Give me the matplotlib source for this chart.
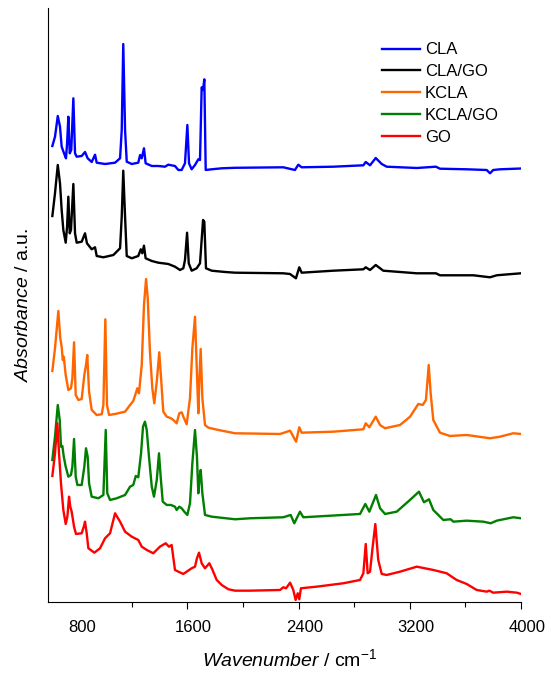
import matplotlib
matplotlib.use("Agg")
from matplotlib import pyplot as plt
from matplotlib.transforms import ScaledTranslation

plt.rcParams['font.family'] = ['Liberation Sans', 'DejaVu Sans']
plt.rcParams['mathtext.fontset'] = 'custom'
plt.rcParams['mathtext.rm'] = 'Liberation Sans'
plt.rcParams['mathtext.it'] = 'Liberation Sans:italic'

# FTIR spectra, stacked absorbance (offset included)
cla_wn = [629, 648, 668, 684, 696, 715, 727, 735, 744, 754, 765, 780, 792, 804, 840, 864, 883, 912,
          936, 948, 1008, 1080, 1116, 1128, 1139, 1152, 1164, 1200, 1247, 1260, 1272, 1288, 1300, 1344,
          1391, 1439, 1463, 1511, 1535, 1559, 1583, 1600, 1612, 1631, 1655, 1679, 1691, 1703, 1713,
          1722, 1732, 1775, 1847, 1943, 2290, 2374, 2398, 2422, 2650, 2866, 2883, 2914, 2955, 2998,
          3034, 3250, 3388, 3417, 3609, 3753, 3777, 3800, 3849, 4000]
cla_abs = [4.563, 4.656, 4.863, 4.756, 4.556, 4.483, 4.44, 4.59, 4.856, 4.49, 4.523, 5.04, 4.49, 4.456,
           4.463, 4.503, 4.44, 4.403, 4.476, 4.396, 4.383, 4.396, 4.44, 4.723, 5.583, 4.723, 4.406,
           4.383, 4.396, 4.473, 4.44, 4.54, 4.39, 4.363, 4.363, 4.356, 4.376, 4.363, 4.323, 4.323,
           4.39, 4.773, 4.39, 4.33, 4.373, 4.43, 4.423, 5.15, 5.123, 5.23, 4.323, 4.33, 4.34, 4.345,
           4.35, 4.323, 4.376, 4.35, 4.356, 4.37, 4.403, 4.37, 4.443, 4.383, 4.356, 4.343, 4.356,
           4.336, 4.33, 4.323, 4.29, 4.323, 4.33, 4.338]

clago_wn = [629, 648, 668, 684, 696, 708, 725, 735, 744, 754, 763, 780, 792, 804, 840, 864, 878, 912,
            936, 948, 996, 1068, 1116, 1128, 1139, 1152, 1164, 1200, 1247, 1265, 1276, 1288, 1300,
            1344, 1391, 1463, 1511, 1547, 1571, 1583, 1598, 1610, 1631, 1667, 1691, 1713, 1722, 1734,
            1775, 1871, 1943, 2290, 2338, 2381, 2405, 2422, 2650, 2866, 2883, 2914, 2955, 3009, 3250,
            3388, 3417, 3657, 3777, 3825, 3849, 4000]
clago_abs = [3.863, 4.09, 4.373, 4.19, 3.923, 3.723, 3.596, 3.756, 4.056, 3.69, 3.723, 4.183, 3.69,
             3.596, 3.606, 3.69, 3.59, 3.53, 3.55, 3.463, 3.45, 3.473, 3.54, 3.856, 4.316, 3.856,
             3.463, 3.44, 3.463, 3.53, 3.49, 3.566, 3.44, 3.413, 3.396, 3.383, 3.356, 3.323, 3.34,
             3.423, 3.696, 3.39, 3.316, 3.34, 3.39, 3.823, 3.806, 3.34, 3.316, 3.303, 3.296, 3.29,
             3.283, 3.24, 3.35, 3.296, 3.316, 3.33, 3.35, 3.323, 3.373, 3.316, 3.29, 3.29, 3.27,
             3.27, 3.25, 3.27, 3.273, 3.29]

kcla_wn = [629, 648, 672, 686, 696, 704, 711, 725, 744, 763, 773, 785, 797, 816, 840, 859, 871, 880,
           893, 912, 948, 984, 996, 1010, 1022, 1037, 1080, 1152, 1188, 1211, 1229, 1240, 1252, 1272,
           1288, 1303, 1315, 1331, 1348, 1362, 1380, 1398, 1411, 1427, 1452, 1482, 1499, 1523, 1542,
           1559, 1574, 1595, 1619, 1636, 1655, 1667, 1679, 1686, 1696, 1708, 1727, 1751, 1823, 1943,
           2267, 2339, 2382, 2405, 2422, 2650, 2866, 2883, 2909, 2955, 2986, 3022, 3130, 3202, 3261,
           3293, 3316, 3336, 3350, 3369, 3417, 3489, 3609, 3777, 3849, 3944, 4000]
kcla_abs = [2.313, 2.54, 2.913, 2.64, 2.556, 2.423, 2.456, 2.273, 2.123, 2.14, 2.24, 2.6, 2.073, 2.023,
            2.033, 2.273, 2.373, 2.473, 2.106, 1.923, 1.873, 1.88, 1.973, 2.83, 1.973, 1.873, 1.883,
            1.906, 1.973, 2.013, 2.09, 2.14, 2.09, 2.373, 2.973, 3.233, 3.04, 2.506, 2.14, 1.99,
            2.206, 2.5, 2.24, 1.906, 1.856, 1.84, 1.823, 1.79, 1.89, 1.9, 1.846, 1.78, 2.04, 2.54,
            2.856, 2.373, 1.89, 2.206, 2.533, 2.04, 1.773, 1.746, 1.723, 1.69, 1.683, 1.716, 1.606,
            1.75, 1.696, 1.706, 1.73, 1.79, 1.75, 1.856, 1.773, 1.74, 1.773, 1.856, 1.983, 1.973,
            2.023, 2.373, 2.09, 1.823, 1.696, 1.663, 1.673, 1.64, 1.656, 1.69, 1.683]

kclago_wn = [629, 648, 668, 682, 691, 701, 711, 725, 744, 763, 773, 785, 797, 809, 840, 859, 871, 883,
             893, 912, 960, 996, 1013, 1024, 1044, 1092, 1152, 1188, 1211, 1229, 1247, 1267, 1281,
             1295, 1308, 1324, 1344, 1360, 1380, 1396, 1408, 1423, 1452, 1482, 1511, 1523, 1542, 1559,
             1578, 1600, 1619, 1636, 1655, 1669, 1679, 1686, 1696, 1708, 1727, 1775, 1943, 2051, 2290,
             2343, 2369, 2410, 2434, 2842, 2880, 2909, 2957, 2986, 3022, 3106, 3201, 3266, 3302, 3338,
             3369, 3441, 3494, 3513, 3609, 3729, 3782, 3825, 3944, 4000]
kclago_abs = [1.423, 1.656, 1.973, 1.823, 1.556, 1.563, 1.456, 1.356, 1.256, 1.273, 1.356, 1.633, 1.256,
              1.173, 1.173, 1.356, 1.54, 1.456, 1.19, 1.056, 1.04, 1.073, 1.723, 1.09, 1.023, 1.04,
              1.073, 1.156, 1.173, 1.263, 1.25, 1.49, 1.756, 1.806, 1.723, 1.456, 1.156, 1.056, 1.223,
              1.49, 1.256, 1.006, 0.973, 0.973, 0.956, 0.923, 0.956, 0.94, 0.906, 0.873, 0.99, 1.39,
              1.723, 1.456, 1.09, 1.223, 1.323, 1.09, 0.873, 0.856, 0.83, 0.84, 0.85, 0.873, 0.79,
              0.906, 0.85, 0.883, 0.983, 0.906, 1.073, 0.94, 0.883, 0.906, 1.023, 1.106, 1.0, 1.03,
              0.923, 0.823, 0.83, 0.806, 0.816, 0.806, 0.79, 0.816, 0.85, 0.84]

go_wn = [629, 648, 665, 677, 691, 708, 725, 737, 749, 758, 768, 785, 799, 840, 855, 864, 876, 888, 931,
         972, 1008, 1044, 1080, 1116, 1152, 1200, 1247, 1272, 1308, 1355, 1403, 1444, 1468, 1487, 1511,
         1535, 1571, 1595, 1631, 1655, 1669, 1684, 1703, 1727, 1758, 1779, 1811, 1847, 1895, 1943,
         2051, 2267, 2290, 2310, 2339, 2362, 2379, 2394, 2405, 2417, 2530, 2722, 2842, 2866, 2883,
         2897, 2914, 2933, 2952, 2973, 2998, 3034, 3130, 3250, 3369, 3465, 3537, 3609, 3681, 3753,
         3772, 3800, 3897, 3969, 4000]
go_abs = [1.263, 1.49, 1.79, 1.49, 1.19, 0.923, 0.783, 0.856, 1.056, 0.956, 0.906, 0.756, 0.683, 0.69,
          0.756, 0.806, 0.69, 0.54, 0.496, 0.54, 0.64, 0.69, 0.89, 0.806, 0.706, 0.656, 0.623, 0.556,
          0.523, 0.49, 0.556, 0.59, 0.556, 0.573, 0.323, 0.306, 0.283, 0.306, 0.34, 0.356, 0.44,
          0.496, 0.39, 0.34, 0.39, 0.33, 0.223, 0.173, 0.13, 0.116, 0.116, 0.123, 0.15, 0.14, 0.196,
          0.123, 0.023, 0.09, 0.03, 0.14, 0.156, 0.19, 0.223, 0.29, 0.583, 0.29, 0.306, 0.556, 0.783,
          0.423, 0.283, 0.273, 0.306, 0.356, 0.323, 0.29, 0.223, 0.183, 0.123, 0.106, 0.116, 0.096,
          0.106, 0.096, 0.083]

labels = ['CLA', 'CLA/GO', 'KCLA', 'KCLA/GO', 'GO']
colors = ['#0000ff', '#000000', '#ff6600', '#007f00', '#ff0000']
spectra = [(cla_wn, cla_abs), (clago_wn, clago_abs), (kcla_wn, kcla_abs),
           (kclago_wn, kclago_abs), (go_wn, go_abs)]

fig = plt.figure(figsize=(5.51, 6.73), dpi=100)
ax = fig.add_axes([0.0877, 0.1051, 0.8579, 0.883])

for (wn, ab), lab, col in zip(spectra, labels, colors):
    ax.plot(wn, ab, color=col, lw=1.7, label=lab)

ax.set_xlim(600, 4000)
ax.set_ylim(0, 5.943)
ax.set_xticks([800, 1600, 2400, 3200, 4000])
ax.set_xticks([1200, 2000, 2800, 3600], minor=True)
ax.set_yticks([])
ax.spines['top'].set_visible(False)
ax.spines['right'].set_visible(False)
ax.tick_params(axis='x', which='major', direction='out', length=5, width=0.8, labelsize=12, pad=8)
ax.tick_params(axis='x', which='minor', direction='out', length=3.5, width=0.8)
ax.xaxis.get_major_ticks()[0].tick1line.set_visible(False)
shift = ScaledTranslation(6 / 100, 0, fig.dpi_scale_trans)
for t in ax.get_xticklabels():
    t.set_transform(t.get_transform() + shift)

ax.set_xlabel(r'$\mathit{Wavenumber}$ / cm$^{-1}$', fontsize=14)
ax.set_ylabel(r'$\mathit{Absorbance}$ / a.u.', fontsize=14)
ax.xaxis.set_label_coords(0.51, -0.077)
ax.yaxis.set_label_coords(-0.034, 0.5)

ax.legend(loc='upper left', bbox_to_anchor=(0.705, 0.942), frameon=False, fontsize=12,
          handlelength=2.3, handletextpad=0.3, labelspacing=0.41, borderaxespad=0, borderpad=0)

plt.savefig('out.png', dpi=100)
